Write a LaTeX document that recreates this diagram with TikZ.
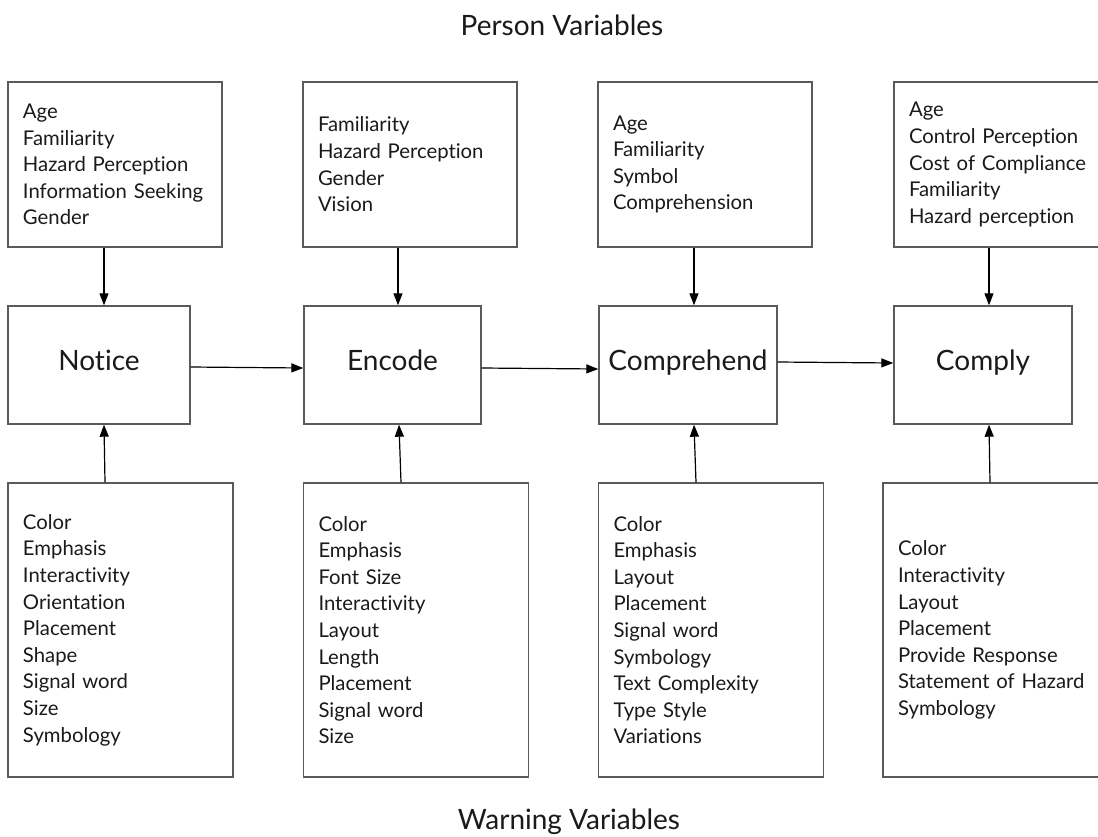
\documentclass[tikz,border=0pt]{standalone}
\usepackage{fontspec}
\setmainfont{Lato}[Ligatures=NoCommon]
\usetikzlibrary{arrows.meta}

\definecolor{boxline}{HTML}{5A5A5A}
\definecolor{ink}{HTML}{1A1A1A}

\tikzset{
  varbox/.style={draw=boxline, line width=1.4pt, rectangle, align=left,
    inner xsep=15pt, inner ysep=0pt, text=ink,
    font={\fontsize{20.3}{26.6}\selectfont}},
  topbox/.style={varbox, text width=184pt, minimum height=165pt},
  lowbox/.style={varbox, text width=195pt, minimum height=294pt},
  stagebox/.style={draw=boxline, line width=1.4pt, rectangle, text=ink,
    minimum height=118pt, inner sep=0pt, text height=20pt, text depth=10pt,
    font={\fontsize{28}{32}\selectfont}},
  heading/.style={anchor=base, text=ink, inner sep=0pt,
    font={\fontsize{28}{32}\selectfont}},
  arr/.style={draw=black, line width=1.2pt,
    -{Triangle[length=12pt,width=9pt]}}
}

\begin{document}
\begin{tikzpicture}[x=1pt, y=-1pt]
  \clip (0,0) rectangle (1098,836);
  \fill[white] (0,0) rectangle (1098,836);

  % headings
  \node[heading] (person) at (562,35) {Person Variables};
  \node[heading] (warning) at (569,829) {Warning Variables};

  % person variables (top row)
  \node[topbox] (p1) at (115,164.5) {Age\\Familiarity\\Hazard Perception\\Information Seeking\\Gender};
  \node[topbox] (p2) at (410,164.5) {Familiarity\\Hazard Perception\\Gender\\Vision};
  \node[topbox] (p3) at (705,164.5) {Age\\Familiarity\\Symbol\\Comprehension};
  \node[topbox] (p4) at (1001,164.5) {Age\\Control Perception\\Cost of Compliance\\Familiarity\\Hazard perception};

  % stages (middle row)
  \node[stagebox, minimum width=182pt] (notice) at (99,365) {Notice};
  \node[stagebox, minimum width=177pt] (encode) at (392.5,365) {Encode};
  \node[stagebox, minimum width=178pt] (comprehend) at (688,365) {Comprehend};
  \node[stagebox, minimum width=178pt] (comply) at (983,365) {Comply};

  % warning variables (bottom row)
  \node[lowbox] (w1) at (120.5,630) {Color\\Emphasis\\Interactivity\\Orientation\\Placement\\Shape\\Signal word\\Size\\Symbology};
  \node[lowbox] (w2) at (416,630) {Color\\Emphasis\\Font Size\\Interactivity\\Layout\\Length\\Placement\\Signal word\\Size};
  \node[lowbox] (w3) at (711,630) {Color\\Emphasis\\Layout\\Placement\\Signal word\\Symbology\\Text Complexity\\Type Style\\Variations};
  \node[lowbox] (w4) at (995.5,630) {Color\\Interactivity\\Layout\\Placement\\Provide Response\\Statement of Hazard\\Symbology};

  % person variables feed each stage
  \draw[arr] ([xshift=-11pt]p1.south) -- ([xshift=5pt]notice.north);
  \draw[arr] ([xshift=-12pt]p2.south) -- ([xshift=5.5pt]encode.north);
  \draw[arr] ([xshift=-11pt]p3.south) -- ([xshift=6pt]comprehend.north);
  \draw[arr] ([xshift=-12pt]p4.south) -- ([xshift=6pt]comply.north);

  % warning variables feed each stage
  \draw[arr] ([xshift=-15.5pt]w1.north) -- ([xshift=5pt]notice.south);
  \draw[arr] ([xshift=-15pt]w2.north) -- ([xshift=6.5pt]encode.south);
  \draw[arr] ([xshift=-15pt]w3.north) -- ([xshift=6pt]comprehend.south);
  \draw[arr] ([xshift=-5.5pt]w4.north) -- ([xshift=6pt]comply.south);

  % stage sequence
  \draw[arr] ([yshift=-2pt]notice.east) -- ([yshift=-3pt]encode.west);
  \draw[arr] ([yshift=-3pt]encode.east) -- ([yshift=-4pt]comprehend.west);
  \draw[arr] ([yshift=3pt]comprehend.east) -- ([yshift=2pt]comply.west);
\end{tikzpicture}
\end{document}
